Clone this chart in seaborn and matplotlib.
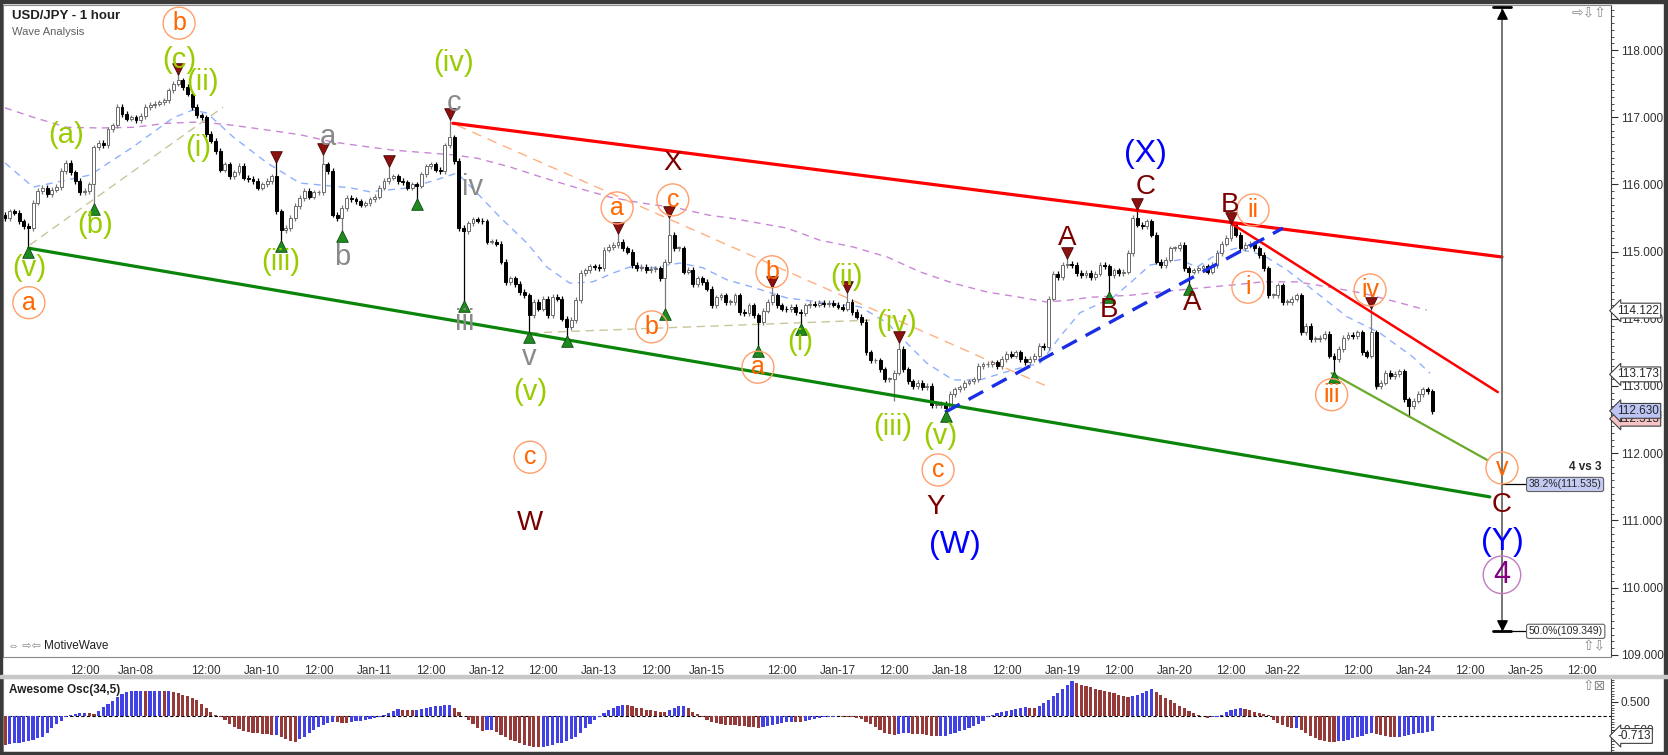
import numpy as np
import pandas as pd
import matplotlib
matplotlib.use("Agg")
import matplotlib.pyplot as plt
import matplotlib.transforms as mtrans
import seaborn as sns
from matplotlib.ticker import MultipleLocator, FormatStrFormatter, FixedLocator

# USD/JPY 1 hour candles (one close per candle)
first_open = 115.55
closes = [
    115.50, 115.60, 115.58, 115.45, 115.38, 115.35, 115.73, 115.90, 115.95, 115.85,
    115.92, 115.96, 116.20, 116.32, 116.18, 116.05, 115.88, 115.90, 116.00, 116.55,
    116.62, 116.58, 116.82, 116.88, 117.15, 117.05, 116.98, 117.00, 116.96, 117.02,
    117.15, 117.18, 117.20, 117.22, 117.25, 117.40, 117.50, 117.55, 117.45, 117.35,
    117.15, 117.03, 117.00, 116.75, 116.65, 116.50, 116.22, 116.30, 116.12, 116.18,
    116.28, 116.10, 116.08, 116.05, 115.95, 116.00, 116.05, 116.12, 115.60, 115.32,
    115.35, 115.50, 115.68, 115.80, 115.90, 115.82, 115.88, 115.88, 116.30, 116.20,
    115.55, 115.50, 115.65, 115.80, 115.78, 115.75, 115.70, 115.72, 115.78, 115.82,
    115.95, 116.05, 116.10, 116.12, 116.05, 116.03, 115.95, 116.00, 115.98, 116.15,
    116.27, 116.30, 116.22, 116.20, 116.58, 116.70, 116.35, 115.35, 115.30, 115.42,
    115.48, 115.46, 115.45, 115.15, 115.15, 115.12, 114.85, 114.55, 114.60, 114.52,
    114.40, 114.35, 114.05, 114.25, 114.15, 114.30, 114.05, 114.33, 114.30, 114.00,
    113.88, 113.98, 114.28, 114.68, 114.72, 114.78, 114.77, 114.75, 115.03, 115.07,
    115.10, 115.15, 115.05, 115.00, 114.80, 114.75, 114.77, 114.72, 114.74, 114.75,
    114.60, 114.85, 115.25, 115.05, 115.05, 114.70, 114.73, 114.52, 114.60, 114.55,
    114.45, 114.20, 114.32, 114.35, 114.25, 114.25, 114.35, 114.10, 114.08, 114.20,
    114.05, 113.95, 114.12, 114.25, 114.35, 114.20, 114.15, 114.14, 114.18, 114.10,
    114.08, 114.20, 114.22, 114.21, 114.24, 114.22, 114.24, 114.21, 114.18, 114.15,
    114.25, 114.10, 114.03, 113.95, 113.50, 113.38, 113.38, 113.25, 113.10, 113.10,
    113.20, 113.55, 113.25, 113.07, 113.00, 113.05, 112.98, 113.00, 112.72, 112.72,
    112.73, 112.68, 112.88, 112.95, 112.98, 113.05, 113.07, 113.10, 113.30, 113.32,
    113.33, 113.35, 113.30, 113.40, 113.48, 113.45, 113.50, 113.40, 113.35, 113.40,
    113.45, 113.60, 113.58, 114.30, 114.67, 114.62, 114.80, 114.82, 114.80, 114.68,
    114.65, 114.68, 114.62, 114.67, 114.80, 114.78, 114.65, 114.72, 114.68, 114.70,
    114.98, 115.50, 115.40, 115.38, 115.45, 115.25, 114.85, 114.80, 114.88, 115.05,
    115.05, 115.10, 114.75, 114.70, 114.72, 114.75, 114.78, 114.70, 114.80, 114.98,
    115.12, 115.20, 115.40, 115.25, 115.05, 115.10, 115.12, 115.05, 114.95, 114.75,
    114.35, 114.35, 114.50, 114.25, 114.25, 114.30, 114.35, 113.80, 113.90, 113.70,
    113.70, 113.72, 113.78, 113.45, 113.40, 113.55, 113.72, 113.76, 113.74, 113.80,
    113.50, 113.45, 113.80, 113.00, 113.05, 113.20, 113.15, 113.18, 113.22, 112.80,
    112.70, 112.78, 112.88, 112.95, 112.92, 112.63,
]

# long wicks that stand out (candle index -> price)
low_wicks = {5: 115.05, 19: 115.69, 59: 115.14, 72: 115.28, 88: 115.77, 98: 114.25,
             112: 113.79, 120: 113.73, 141: 114.13, 161: 113.58, 170: 113.90,
             190: 112.78, 201: 112.61, 236: 114.38, 253: 114.50, 284: 113.19, 300: 112.54}
high_wicks = {37: 117.66, 58: 116.36, 68: 116.47, 82: 116.30, 95: 117.00, 131: 115.29,
              142: 115.54, 164: 114.50, 180: 114.42, 191: 113.68, 227: 114.92,
              242: 115.66, 262: 115.45, 292: 114.18}
tail = 0.04

swing_low_idx = [5, 19, 59, 72, 88, 98, 112, 120, 141, 161, 170, 201, 236, 253, 284]
swing_high_idx = [37, 58, 68, 82, 95, 131, 142, 164, 180, 191, 227, 242, 262, 292]

# moving averages (candle index, price)
ma_fast_idx = [0, 6, 18.2, 27.4, 35.9, 40.2, 43.2, 48.7, 56, 63, 73.7, 78, 86.5, 93.6, 96.6,
               100.9, 105.8, 111.5, 115.8, 120.7, 125.6, 129.9, 133.5, 138.5, 144.2, 149.1,
               154.3, 159.8, 167.1, 174.1, 182.7, 188.5, 192.7, 197, 202.6, 208.3, 215.4,
               221.2, 225.4, 229.7, 236.8, 240.4, 244.7, 251.1, 254.7, 259.6, 263.2, 268.8,
               273.9, 279.5, 286.8, 293.8, 300.9, 304.5]
ma_fast_val = [116.32, 115.96, 116.14, 116.56, 116.99, 117.11, 117.06, 116.71, 116.32, 116.02,
               115.95, 115.89, 115.95, 116.10, 116.17, 115.87, 115.51, 115.13, 114.77, 114.53,
               114.55, 114.68, 114.77, 114.76, 114.83, 114.76, 114.58, 114.47, 114.31, 114.25,
               114.18, 113.94, 113.64, 113.34, 113.09, 113.09, 113.24, 113.34, 113.73, 114.09,
               114.32, 114.53, 114.80, 114.88, 114.77, 114.99, 115.05, 114.95, 114.73, 114.43,
               114.03, 113.79, 113.43, 113.19]
ma_slow_idx = [0, 6, 13.2, 20.3, 27.4, 34.6, 41.7, 48.7, 56, 63, 70.1, 77.4, 82.9, 90.2, 95.7,
               100.9, 107.9, 115, 122.2, 129.3, 136.3, 143.6, 150.6, 154.9, 159.8, 167.1,
               174.1, 181.2, 188.5, 195.5, 202.6, 209.8, 216.9, 222.6, 227.6, 231.8, 240.4,
               251.1, 261.8, 268.8, 276.1, 283.1, 290.2, 297.4, 303.8]
ma_slow_val = [117.14, 117.00, 116.85, 116.84, 116.85, 116.91, 116.93, 116.88, 116.81, 116.74,
               116.63, 116.56, 116.51, 116.47, 116.44, 116.39, 116.26, 116.10, 115.95, 115.81,
               115.72, 115.65, 115.54, 115.50, 115.44, 115.35, 115.17, 115.07, 114.92, 114.70,
               114.53, 114.40, 114.32, 114.25, 114.28, 114.32, 114.35, 114.43, 114.50, 114.55,
               114.55, 114.47, 114.38, 114.25, 114.13]

# Awesome Oscillator (34,5), one value per candle
ao = [
    -1.04, -1.00, -0.98, -0.95, -0.92, -0.90, -0.86, -0.80, -0.74, -0.60,
    -0.44, -0.30, -0.18, -0.05, 0.02, 0.07, 0.10, 0.10, 0.09, 0.08,
    0.18, 0.31, 0.42, 0.55, 0.69, 0.78, 0.85, 0.88, 0.90, 0.90,
    0.89, 0.89, 0.89, 0.89, 0.88, 0.90, 0.86, 0.81, 0.76, 0.70,
    0.64, 0.56, 0.42, 0.28, 0.14, 0.04, -0.05, -0.16, -0.28, -0.38,
    -0.47, -0.53, -0.57, -0.60, -0.62, -0.64, -0.66, -0.68, -0.67, -0.76,
    -0.83, -0.88, -0.92, -0.82, -0.74, -0.62, -0.50, -0.40, -0.32, -0.26,
    -0.20, -0.22, -0.24, -0.26, -0.22, -0.19, -0.17, -0.14, -0.10, -0.07,
    -0.04, 0.04, 0.12, 0.18, 0.24, 0.22, 0.21, 0.20, 0.22, 0.24,
    0.28, 0.32, 0.35, 0.37, 0.39, 0.40, 0.30, 0.15, 0.00, -0.14,
    -0.30, -0.44, -0.52, -0.50, -0.49, -0.58, -0.68, -0.76, -0.84, -0.90,
    -0.96, -1.02, -1.06, -1.10, -1.11, -1.09, -1.06, -1.02, -0.98, -0.95,
    -0.90, -0.82, -0.74, -0.60, -0.44, -0.30, -0.14, -0.02, 0.10, 0.20,
    0.28, 0.35, 0.39, 0.38, 0.35, 0.30, 0.27, 0.23, 0.20, 0.17,
    0.15, 0.14, 0.22, 0.30, 0.36, 0.37, 0.30, 0.15, 0.06, -0.04,
    -0.14, -0.20, -0.25, -0.28, -0.31, -0.32, -0.33, -0.34, -0.36, -0.38,
    -0.41, -0.44, -0.40, -0.36, -0.32, -0.28, -0.25, -0.22, -0.20, -0.21,
    -0.22, -0.18, -0.14, -0.11, -0.08, -0.05, -0.03, -0.02, -0.01, -0.02,
    -0.04, -0.05, -0.07, -0.12, -0.20, -0.28, -0.38, -0.50, -0.62, -0.66,
    -0.68, -0.64, -0.62, -0.62, -0.63, -0.64, -0.66, -0.68, -0.70, -0.71,
    -0.71, -0.70, -0.66, -0.60, -0.55, -0.50, -0.44, -0.36, -0.28, -0.18,
    -0.02, 0.05, 0.10, 0.15, 0.19, 0.22, 0.26, 0.30, 0.31, 0.30,
    0.29, 0.36, 0.46, 0.58, 0.70, 0.82, 0.96, 1.10, 1.25, 1.18,
    1.12, 1.07, 1.02, 0.98, 0.94, 0.90, 0.87, 0.82, 0.76, 0.71,
    0.67, 0.70, 0.76, 0.81, 0.88, 0.95, 0.85, 0.75, 0.66, 0.57,
    0.46, 0.36, 0.28, 0.18, 0.10, 0.04, 0.00, -0.06, -0.05, -0.02,
    0.04, 0.15, 0.22, 0.26, 0.27, 0.24, 0.20, 0.16, 0.12, 0.07,
    0.02, -0.14, -0.24, -0.32, -0.38, -0.43, -0.42, -0.50, -0.62, -0.70,
    -0.80, -0.86, -0.90, -0.92, -0.93, -0.91, -0.88, -0.85, -0.80, -0.74,
    -0.70, -0.66, -0.62, -0.65, -0.68, -0.71, -0.74, -0.75, -0.75, -0.73,
    -0.68, -0.65, -0.62, -0.59, -0.56, -0.55,
]

tick_pos = [5, 17, 28, 43, 55, 67, 79, 91, 103, 115, 127, 139, 150, 166, 178, 190, 202,
            214, 226, 238, 250, 262, 273, 289, 301, 313, 325, 337]
tick_labels = ["", "12:00", "Jan-08", "12:00", "Jan-10", "12:00", "Jan-11", "12:00", "Jan-12",
               "12:00", "Jan-13", "12:00", "Jan-15", "12:00", "Jan-17", "12:00", "Jan-18",
               "12:00", "Jan-19", "12:00", "Jan-20", "12:00", "Jan-22", "12:00", "Jan-24",
               "12:00", "Jan-25", "12:00"]

# trend lines: ([index0, index1], [price0, price1])
upper_channel = ([95.7, 319.9], [116.91, 114.92])
lower_channel = ([5.1, 317.3], [115.05, 111.35])
wedge_top = ([261.8, 319.0], [115.43, 112.91])
wedge_bottom = ([283.5, 316.7], [113.19, 111.90])
blue_support = ([200.9, 273.1], [112.61, 115.35])
orange_guide = ([96.6, 222.2], [116.88, 113.01])
tan_guide_1 = ([5.3, 46.6], [115.10, 117.15])
tan_guide_2 = ([112.2, 184.8], [113.79, 113.98])

# wave count labels: text, candle index, price, kind
waves = [
    ("(v)", 5.1, 114.76, "g"), ("a", 5.1, 114.24, "o"), ("(a)", 13.0, 116.74, "g"),
    ("(b)", 19.2, 115.40, "g"), ("b", 37.2, 118.40, "o"), ("(c)", 37.2, 117.85, "g"),
    ("(ii)", 42.1, 117.52, "g"), ("(i)", 41.2, 116.54, "g"), ("(iii)", 59.0, 114.85, "g"),
    ("a", 69.0, 116.71, "gr"), ("b", 72.0, 114.92, "gr"), ("(iv)", 95.9, 117.81, "g"),
    ("c", 95.9, 117.21, "gr"), ("iv", 100.0, 115.96, "gr"), ("iii", 98.3, 113.95, "gr"),
    ("v", 112.0, 113.43, "gr"), ("(v)", 112.2, 112.91, "g"), ("c", 112.2, 111.94, "o"),
    ("W", 112.2, 110.96, "r"), ("a", 130.8, 115.65, "o"), ("X", 142.7, 116.32, "r"),
    ("c", 142.7, 115.77, "o"), ("b", 138.2, 113.88, "o"), ("b", 163.9, 114.70, "o"),
    ("a", 160.9, 113.28, "o"), ("(i)", 169.9, 113.65, "g"), ("(ii)", 179.9, 114.62, "g"),
    ("(iv)", 190.6, 113.94, "g"), ("(iii)", 189.7, 112.39, "g"), ("(v)", 199.8, 112.26, "g"),
    ("c", 199.4, 111.75, "o"), ("Y", 198.9, 111.20, "r"), ("(W)", 203.0, 110.63, "b"),
    ("A", 226.9, 115.20, "r"), ("(X)", 243.8, 116.45, "b"), ("C", 243.8, 115.96, "r"),
    ("B", 235.9, 114.13, "r"), ("A", 253.8, 114.24, "r"), ("B", 261.8, 115.69, "r"),
    ("ii", 266.7, 115.62, "o"), ("i", 265.6, 114.47, "o"), ("iv", 291.7, 114.43, "o"),
    ("iii", 283.5, 112.87, "o"), ("v", 319.9, 111.78, "o"), ("C", 319.9, 111.23, "r"),
    ("(Y)", 319.9, 110.68, "b"), ("4", 319.9, 110.19, "p"),
]

ruler_x = 319.9
ruler_top, ruler_bottom = 118.64, 109.349
fib_382 = 111.535
price_tags = [(114.122, "white"), (113.173, "white"), (112.513, "#f6c4c4"), (112.630, "#bcc4f4")]

sns.set_style("white")
plt.rcParams["font.family"] = ["Liberation Sans", "DejaVu Sans"]

W, H = 1668, 755
fig = plt.figure(figsize=(W / 100, H / 100), dpi=100)
ax = fig.add_axes([3 / W, 1 - 657 / H, 1608 / W, 652 / H])
ax2 = fig.add_axes([3 / W, 1 - 752 / H, 1608 / W, 74 / H], sharex=ax)

# ---- candles
c = np.array(closes)
n = len(c)
idx = np.arange(n)
o = np.r_[first_open, c[:-1]]
hi = np.maximum(o, c) + tail
lo = np.minimum(o, c) - tail
for k, v in high_wicks.items():
    hi[k] = max(hi[k], v)
for k, v in low_wicks.items():
    lo[k] = min(lo[k], v)
up = c >= o
ax.vlines(idx, lo, hi, colors=np.where(up, "#7a7a7a", "black"), lw=0.9, zorder=2)
ax.bar(idx, np.maximum(np.abs(c - o), 0.012), bottom=np.minimum(o, c), width=0.62,
       color=np.where(up, "white", "black"), edgecolor=np.where(up, "#6a6a6a", "black"),
       linewidth=0.7, zorder=3)

ax.scatter(swing_low_idx, [lo[k] - 0.055 for k in swing_low_idx], marker="^", s=70,
           color="#1f8a1f", edgecolor="#0b4a0b", linewidth=0.6, zorder=5)
ax.scatter(swing_high_idx, [hi[k] + 0.055 for k in swing_high_idx], marker="v", s=70,
           color="#8b1010", edgecolor="#4a0505", linewidth=0.6, zorder=5)

# ---- moving averages
sns.lineplot(x=ma_fast_idx, y=ma_fast_val, ax=ax, color="#8fb0ff", lw=1.0,
             linestyle=(0, (5, 4)), zorder=1)
sns.lineplot(x=ma_slow_idx, y=ma_slow_val, ax=ax, color="#c987d6", lw=1.0,
             linestyle=(0, (5, 4)), zorder=1)

# ---- trend lines
ax.plot(*tan_guide_1, color="#c9c59a", lw=1.0, ls=(0, (6, 4)), zorder=1)
ax.plot(*tan_guide_2, color="#c9c59a", lw=1.0, ls=(0, (6, 4)), zorder=1)
ax.plot(*orange_guide, color="#ffb080", lw=1.0, ls=(0, (7, 5)), zorder=1)
ax.plot(*upper_channel, color="#ff0000", lw=2.3, zorder=4)
ax.plot(*lower_channel, color="#0a850a", lw=2.3, zorder=4)
ax.plot(*wedge_top, color="#ff0000", lw=1.8, zorder=4)
ax.plot(*wedge_bottom, color="#6aaa2a", lw=1.6, zorder=4)
ax.plot(*blue_support, color="#1a2ee6", lw=2.4, ls=(0, (5, 3)), zorder=4)

# ---- ruler / fib projection
ax.plot([ruler_x, ruler_x], [ruler_top, ruler_bottom], color="#505050", lw=1.1, zorder=4)
ax.plot([ruler_x - 1.9, ruler_x + 1.9], [ruler_top, ruler_top], color="black", lw=2, zorder=4)
ax.plot([ruler_x - 1.9, ruler_x + 1.9], [ruler_bottom, ruler_bottom], color="black", lw=2, zorder=4)
ax.scatter([ruler_x], [ruler_top - 0.1], marker="^", s=45, color="black", zorder=5)
ax.scatter([ruler_x], [ruler_bottom + 0.1], marker="v", s=45, color="black", zorder=5)
ax.plot([ruler_x, 325.4], [fib_382, fib_382], color="black", lw=0.9, zorder=4)
ax.plot([ruler_x + 1.9, 325.4], [ruler_bottom, ruler_bottom], color="black", lw=0.9, zorder=4)
ax.text(325.6, fib_382, "38.2%(111.535)", fontsize=7.5, va="center", ha="left", zorder=6,
        bbox=dict(boxstyle="round,pad=0.2", fc="#c3cbf3", ec="#606060", lw=0.8))
ax.text(325.6, ruler_bottom, "50.0%(109.349)", fontsize=7.5, va="center", ha="left", zorder=6,
        bbox=dict(boxstyle="round,pad=0.2", fc="white", ec="#606060", lw=0.8))
ax.text(341.2, 111.80, "4 vs 3", fontsize=8.5, fontweight="bold", ha="right", va="center")

# ---- wave labels
styles = {
    "g": dict(color="#99cc00", fontsize=21),
    "o": dict(color="#ff6600", fontsize=18),
    "gr": dict(color="#8a8a8a", fontsize=21),
    "r": dict(color="#7a0000", fontsize=20),
    "b": dict(color="#0000ff", fontsize=23),
    "p": dict(color="#800080", fontsize=22),
}
for txt, xi, p, kind in waves:
    if kind == "o":
        ax.scatter([xi], [p], s=23 ** 2, facecolors="none", edgecolors="#ff9f6a",
                   linewidths=1.0, zorder=6)
    if kind == "p":
        ax.scatter([xi], [p], s=27 ** 2, facecolors="none", edgecolors="#c07cc0",
                   linewidths=1.0, zorder=6)
    ax.text(xi, p, txt, ha="center", va="center", zorder=7, **styles[kind])

# ---- axes formatting (main)
ax.set_xlim(-0.43, 343.2)
ax.set_ylim(108.967, 118.67)
ax.yaxis.tick_right()
ax.yaxis.set_major_locator(MultipleLocator(1))
ax.yaxis.set_minor_locator(MultipleLocator(0.1))
ax.yaxis.set_major_formatter(FormatStrFormatter("%.3f"))
ax.tick_params(axis="y", which="major", direction="out", length=5, width=0.8,
               labelsize=8.5, pad=2, colors="#303030")
ax.tick_params(axis="y", which="minor", direction="out", length=2.5, width=0.7, colors="#505050")
ax.set_xticks(tick_pos)
ax.set_xticklabels(tick_labels)
ax.tick_params(axis="x", direction="out", length=4, width=0.8, labelsize=8.5, pad=1.5,
               colors="#303030", labelbottom=True)
ax.set_xlabel("")
ax.set_ylabel("")
for s in ax.spines.values():
    s.set_color("#8a8a8a")
    s.set_linewidth(0.8)
ax.spines["right"].set_color("#404040")

blend = mtrans.blended_transform_factory(ax.transAxes, ax.transData)
for val, fc in price_tags:
    ax.text(1.004, val, f"{val:.3f}", transform=blend, fontsize=8.5, ha="left", va="center",
            zorder=8, bbox=dict(boxstyle="larrow,pad=0.12", fc=fc, ec="#404040", lw=0.8))

# ---- Awesome oscillator
ao_arr = np.array(ao)
rising = np.r_[False, ao_arr[1:] >= ao_arr[:-1]]
df_ao = pd.DataFrame({"idx": idx, "ao": ao_arr, "dir": np.where(rising, "up", "down")})
sns.barplot(data=df_ao, x="idx", y="ao", hue="dir", palette={"up": "#2727ff", "down": "#a52a2a"},
            native_scale=True, dodge=False, width=0.68, errorbar=None, legend=False,
            linewidth=0, ax=ax2)
ax2.axhline(0, color="black", lw=0.8, ls=(0, (3, 2)), zorder=0)
ax2.set_xlim(-0.43, 343.2)
ax2.set_ylim(-1.286, 1.357)
ax2.yaxis.tick_right()
ax2.yaxis.set_major_locator(FixedLocator([-0.5, 0.5]))
ax2.yaxis.set_major_formatter(FormatStrFormatter("%.3f"))
ax2.yaxis.set_minor_locator(MultipleLocator(0.1))
ax2.tick_params(axis="y", which="major", direction="out", length=5, width=0.8,
                labelsize=8.5, pad=2, colors="#303030")
ax2.tick_params(axis="y", which="minor", direction="out", length=2.5, width=0.7, colors="#505050")
ax2.tick_params(axis="x", length=0, labelbottom=False)
ax2.set_xlabel("")
ax2.set_ylabel("")
for s in ax2.spines.values():
    s.set_color("#8a8a8a")
    s.set_linewidth(0.8)
ax2.spines["right"].set_color("#404040")
blend2 = mtrans.blended_transform_factory(ax2.transAxes, ax2.transData)
ax2.text(1.004, -0.713, "-0.713", transform=blend2, fontsize=8.5, ha="left", va="center",
         zorder=8, bbox=dict(boxstyle="larrow,pad=0.12", fc="white", ec="#404040", lw=0.8))

# ---- header texts / window chrome
fig.text(12 / W, 1 - 16 / H, "USD/JPY - 1 hour", fontsize=9.5, fontweight="bold", color="#202020",
         va="center")
fig.text(12 / W, 1 - 32 / H, "Wave Analysis", fontsize=8, color="#606060", va="center")
fig.text(8 / W, 1 - 646 / H, "⇔ ⇨⇦", fontsize=8, color="#8a8a8a", va="center")
fig.text(44 / W, 1 - 646 / H, "MotiveWave", fontsize=8.5, color="#202020", va="center")
fig.text(9 / W, 1 - 690 / H, "Awesome Osc(34,5)", fontsize=8.5, fontweight="bold",
         color="#202020", va="center")
fig.text(1606 / W, 1 - 13 / H, "⇨⇩⇧", fontsize=10, color="#8a8a8a", va="center", ha="right")
fig.text(1606 / W, 1 - 646 / H, "⇧⇩", fontsize=10, color="#8a8a8a", va="center", ha="right")
fig.text(1606 / W, 1 - 686 / H, "⇧⊠", fontsize=10, color="#8a8a8a", va="center", ha="right")

for (x0, y0, w, h, col) in [(0, 0, W, 3, "#3a3a3a"), (0, 0, 2, H, "#3a3a3a"),
                            (0, H - 3, W, 3, "#3a3a3a"), (W - 4, 0, 4, H, "#3a3a3a"),
                            (0, 675, W, 3, "#c8c8c8")]:
    fig.patches.append(plt.Rectangle((x0 / W, 1 - (y0 + h) / H), w / W, h / H,
                                     transform=fig.transFigure, color=col, zorder=10))

fig.savefig("out.png", dpi=100)
